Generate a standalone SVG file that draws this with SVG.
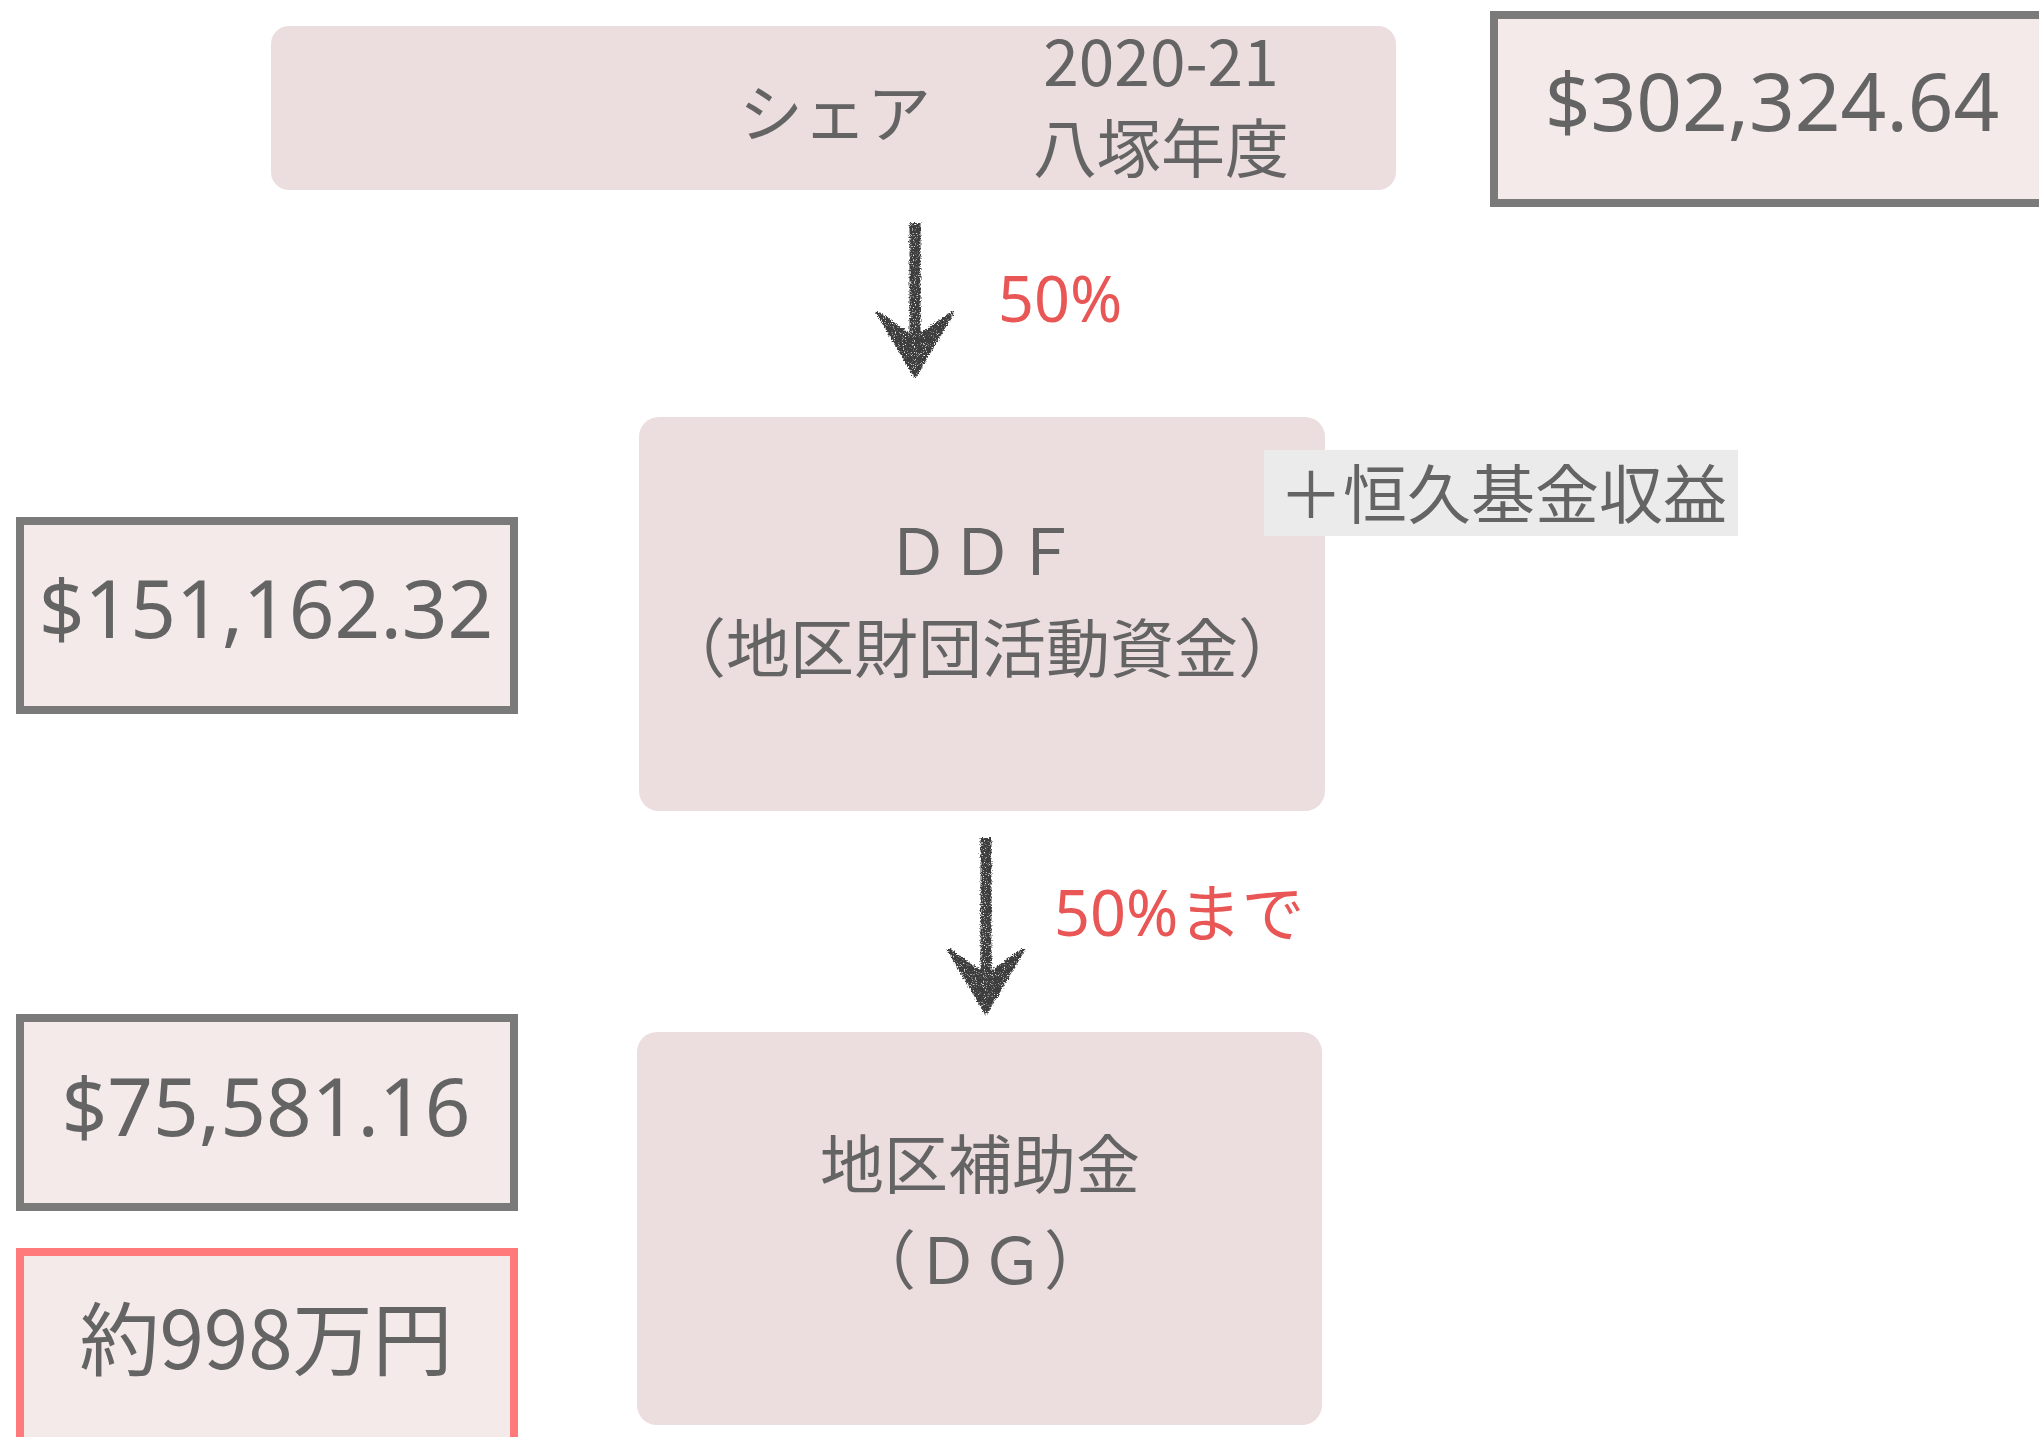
<svg xmlns="http://www.w3.org/2000/svg" width="2039" height="1437" viewBox="0 0 2039 1437">
<style>
.node{fill:#ecdddf}
.val{fill:#f4eaea;stroke:#7a7a7a;stroke-width:8}
.val.red{stroke:#ff7b7b}
.t{font-family:"Noto Sans CJK JP","Noto Sans",sans-serif;font-size:64px;fill:#646464;text-anchor:middle}
.num{font-family:"Noto Sans","Open Sans",sans-serif;font-size:80px;fill:#646464;text-anchor:middle}
.lbl{font-family:"Noto Sans","Noto Sans CJK JP",sans-serif;font-size:63px;fill:#e95656}
.arrow{stroke:#3c3c3c;stroke-width:11;fill:none;marker-end:url(#head)}
</style>
<defs>
<filter id="rough" filterUnits="userSpaceOnUse" x="0" y="0" width="2039" height="1437">
<feTurbulence type="fractalNoise" baseFrequency="0.7" numOctaves="2" seed="3" result="n"/>
<feDisplacementMap in="SourceGraphic" in2="n" scale="5" xChannelSelector="R" yChannelSelector="G" result="d"/>
<feTurbulence type="fractalNoise" baseFrequency="0.9" numOctaves="1" seed="7" result="s"/>
<feColorMatrix in="s" type="matrix" values="0 0 0 0 0  0 0 0 0 0  0 0 0 0 0  0 0 0 -5 3.9" result="m"/>
<feComposite in="d" in2="m" operator="in"/>
</filter>
<marker id="head" viewBox="0 0 66 80" markerWidth="66" markerHeight="80" refX="48" refY="40" orient="auto" markerUnits="userSpaceOnUse">
<path d="M0,2 L27,40 L0,78 L64,40 Z" fill="#3c3c3c" stroke="#3c3c3c" stroke-width="3" stroke-linejoin="round"/>
</marker>
</defs>
<rect width="2039" height="1437" fill="#ffffff"/>

<g id="share">
<rect class="node" x="271" y="26" width="1125" height="164" rx="18"/>
<text class="t" x="835" y="137">シェア</text>
<text class="t" x="1161" y="86">2020-21</text>
<text class="t" x="1161" y="172">八塚年度</text>
</g>

<g id="total-value">
<rect class="val" x="1494" y="15" width="600" height="188"/>
<text class="num" x="1772" y="131">$302,324.64</text>
</g>

<g id="ddf">
<rect class="node" x="639" y="417" width="686" height="394" rx="20"/>
<text class="t" x="982" y="575">ＤＤＦ</text>
<text class="t" x="982" y="672">（地区財団活動資金）</text>
</g>

<g id="endowment">
<rect x="1264" y="450" width="474" height="86" fill="#ebebeb"/>
<text class="t" x="1503" y="518">＋恒久基金収益</text>
</g>

<g id="ddf-value">
<rect class="val" x="20" y="521" width="494" height="189"/>
<text class="num" x="266" y="638">$151,162.32</text>
</g>

<g id="dg">
<rect class="node" x="637" y="1032" width="685" height="393" rx="20"/>
<text class="t" x="980" y="1188">地区補助金</text>
<text class="t" x="980" y="1284">（ＤＧ）</text>
</g>

<g id="dg-value">
<rect class="val" x="20" y="1018" width="494" height="189"/>
<text class="num" x="266" y="1136">$75,581.16</text>
</g>

<g id="dg-yen">
<rect class="val red" x="20" y="1252" width="494" height="189"/>
<text class="t" x="266" y="1369" style="font-size:80px">約998万円</text>
</g>

<g id="connectors" filter="url(#rough)">
<path class="arrow" d="M915,223 L915,360"/>
<path class="arrow" d="M986,838 L986,997"/>
</g>
<g id="connector-labels">
<text class="lbl" x="998" y="322">50%</text>
<text class="lbl" x="1054" y="936">50%まで</text>
</g>
</svg>
